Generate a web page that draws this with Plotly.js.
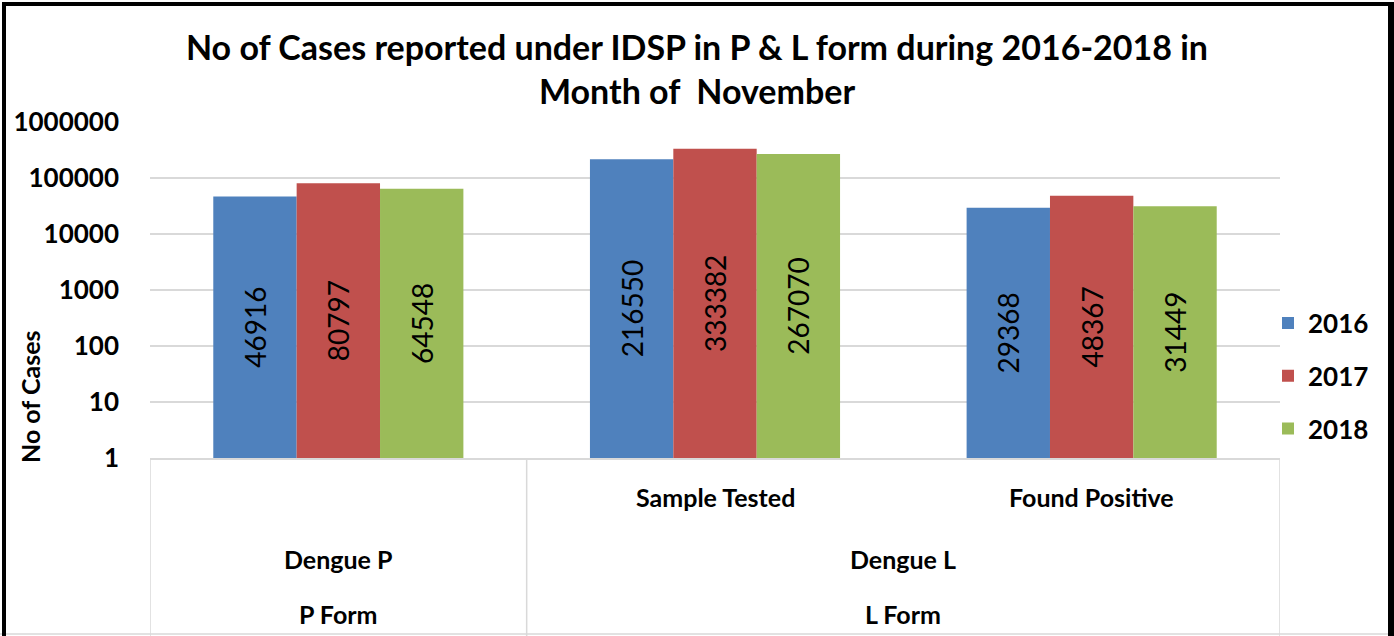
<!DOCTYPE html>
<html>
<head>
<meta charset="utf-8">
<script src="https://cdn.plot.ly/plotly-3.0.1.min.js"></script>
<style>
  html, body { margin: 0; padding: 0; background: #fff; }
  #wrap { position: relative; width: 1394px; height: 636px; overflow: hidden; }
  #chart { width: 1394px; height: 636px; }
  #frame { position: absolute; left: 2px; top: 2px; right: 0px; bottom: -10px;
           border-left: 4px solid #000; border-top: 4px solid #000; border-right: 6px solid #000;
           pointer-events: none; }
</style>
</head>
<body>
<div id="wrap">
  <div id="chart"></div>
  <div id="frame"></div>
</div>
<script>
// ---- data ----
const categories = ['Dengue P', 'Sample Tested', 'Found Positive'];
const innerLabels = ['', 'Sample Tested', 'Found Positive'];
const groupLabels = ['Dengue P', 'Dengue L'];
const groupSpans = [[0, 0], [1, 2]];
const formLabels = ['P Form', 'L Form'];
const years = ['2016', '2017', '2018'];
const values2016 = [46916, 216550, 29368];
const values2017 = [80797, 333382, 48367];
const values2018 = [64548, 267070, 31449];
const yTickVals = [1, 10, 100, 1000, 10000, 100000, 1000000];
const yTickText = ['1', '10', '100', '1000', '10000', '100000', '1000000'];
const titleText = 'No of Cases reported under IDSP in P &amp; L form during 2016-2018 in<br>Month of  November';
const yTitle = 'No of Cases';

// ---- styling ----
const colors = ['#4F81BD', '#C0504D', '#9BBB59'];
const FONT = 'Lato, "Liberation Sans", Arial, sans-serif';
const W = 1394, H = 636;
const M = { l: 150, r: 114, t: 122, b: 178 };
const plotH = H - M.t - M.b;
const py = (pix) => (H - M.b - pix) / plotH;   // pixel y -> paper y
const px = (pix) => (pix - M.l) / (W - M.l - M.r);

const series = [values2016, values2017, values2018];
const traces = series.map((vals, i) => ({
  type: 'bar',
  name: years[i],
  x: categories,
  y: vals,
  marker: { color: colors[i] },
  text: vals.map(String),
  texttemplate: '%{text}',
  textposition: 'inside',
  insidetextanchor: 'middle',
  textangle: -90,
  constraintext: 'none',
  textfont: { family: FONT, size: 28, color: '#000' },
  legendgroup: 'g' + i,
  hoverinfo: 'skip'
}));

const lab = (text, x, xref, y, extra) => Object.assign({
  text: '<b>' + text + '</b>', x: x, xref: xref, y: y, yref: 'paper',
  xanchor: 'center', yanchor: 'middle', showarrow: false,
  font: { family: FONT, size: 25, color: '#000' }
}, extra || {});

const annotations = [];
innerLabels.forEach((t, i) => { if (t) annotations.push(lab(t, i, 'x', py(497))); });
groupLabels.forEach((t, g) => {
  const c = (groupSpans[g][0] + groupSpans[g][1]) / 2;
  annotations.push(lab(t, c, 'x', py(559)));
  annotations.push(lab(formLabels[g], c, 'x', py(614)));
});
annotations.push(lab(yTitle, px(30), 'paper', py(397), { textangle: -90, font: { family: FONT, size: 25, color: '#000' } }));

const lineStyle = { color: '#D9D9D9', width: 1.5 };
const shapes = [];
[-0.5, 0.5, 2.5].forEach(xv => {
  shapes.push({ type: 'line', xref: 'x', yref: 'paper', x0: xv, x1: xv, y0: 0, y1: py(636), line: lineStyle });
});
shapes.push({ type: 'line', xref: 'paper', yref: 'paper', x0: px(0), x1: px(1394), y0: py(634), y1: py(634), line: lineStyle });

const layout = {
  width: W, height: H,
  margin: M,
  paper_bgcolor: '#fff', plot_bgcolor: '#fff',
  font: { family: FONT, color: '#000' },
  title: { text: '<b>' + titleText + '</b>', x: 0.5, xanchor: 'center', xref: 'container',
           y: 1 - 60 / H, yanchor: 'top', yref: 'container',
           font: { family: FONT, size: 34, color: '#000' } },
  barmode: 'group', bargap: 0.336, bargroupgap: 0,
  xaxis: { type: 'category', range: [-0.5, 2.5], showticklabels: false, ticks: '',
           showgrid: false, showline: true, linecolor: '#D9D9D9', linewidth: 1.5, zeroline: false,
           fixedrange: true },
  yaxis: { type: 'log', range: [0, 6], tickvals: yTickVals, ticktext: yTickText,
           tickfont: { family: FONT, size: 26, color: '#000', weight: 'bold' },
           ticks: '', ticklabelstandoff: 30, showgrid: true, gridcolor: '#D9D9D9', gridwidth: 1.5,
           showline: false, zeroline: false, fixedrange: true },
  showlegend: true,
  legend: { x: px(1268), xanchor: 'left', y: py(376), yanchor: 'middle', traceorder: 'grouped',
            tracegroupgap: 16, font: { family: FONT, size: 26, color: '#000', weight: 'bold' },
            bgcolor: 'rgba(0,0,0,0)' },
  annotations: annotations,
  shapes: shapes
};

Plotly.newPlot('chart', traces, layout, { displayModeBar: false, staticPlot: true });
</script>
</body>
</html>
